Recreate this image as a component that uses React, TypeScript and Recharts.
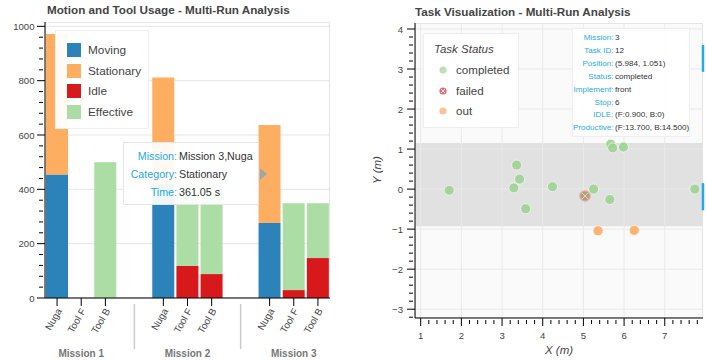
import React from 'react'
import {
  BarChart, Bar, XAxis, YAxis, CartesianGrid,
  ScatterChart, Scatter, ReferenceArea, ReferenceLine
} from 'recharts'

const FONT = '"Liberation Sans", Arial, Helvetica, sans-serif'

// ---- motion / tool usage (seconds) ----
const missions = ['Mission 1', 'Mission 2', 'Mission 3']
const tools = ['Nuga', 'Tool F', 'Tool B']
const nugaMoving = [455, 420, 276]
const nugaStationary = [517, 392, 361.05]
const toolFIdle = [0, 118, 29]
const toolFEffective = [0, 302, 320]
const toolBIdle = [0, 88, 147]
const toolBEffective = [500, 332, 202]
const timeTicks = [0, 200, 400, 600, 800, 1000]

const stackSeries = [
  { key: 'moving', name: 'Moving', color: '#2b83ba' },
  { key: 'stationary', name: 'Stationary', color: '#fdae61' },
  { key: 'idle', name: 'Idle', color: '#d7191c' },
  { key: 'effective', name: 'Effective', color: '#abdda4' }
]

// ---- task positions (m) ----
const completedX = [1.70, 3.29, 3.36, 3.43, 3.58, 4.24, 5.04, 5.25, 5.65, 5.67, 5.72, 5.984, 7.74]
const completedY = [-0.03, 0.03, 0.60, 0.25, -0.49, 0.06, -0.17, 0.00, -0.26, 1.12, 1.03, 1.051, 0.00]
const failedX = [5.04]
const failedY = [-0.17]
const outX = [5.36, 6.25]
const outY = [-1.04, -1.03]
const bandLow = -0.93
const bandHigh = 1.15
const posTicks = [1, 2, 3, 4, 5, 6, 7]
const yPosTicks = [-3, -2, -1, 0, 1, 2, 3, 4]

const statusSeries = [
  { name: 'completed', color: '#a1d99b' },
  { name: 'failed', color: '#e0505a' },
  { name: 'out', color: '#fdae6b' }
]

const hoverTask = [
  ['Mission:', '3'],
  ['Task ID:', '12'],
  ['Position:', '(5.984, 1.051)'],
  ['Status:', 'completed'],
  ['Implement:', 'front'],
  ['Stop:', '6'],
  ['IDLE:', '(F:0.900, B:0)'],
  ['Productive:', '(F:13.700, B:14.500)']
]

// layout of the grouped factor axis
const GROUP = 3 + 1.4
const barRows = missions.flatMap((mission, m) => [
  { mission, tool: tools[0], pos: m * GROUP, moving: nugaMoving[m], stationary: nugaStationary[m], idle: 0, effective: 0 },
  { mission, tool: tools[1], pos: m * GROUP + 1, moving: 0, stationary: 0, idle: toolFIdle[m], effective: toolFEffective[m] },
  { mission, tool: tools[2], pos: m * GROUP + 2, moving: 0, stationary: 0, idle: toolBIdle[m], effective: toolBEffective[m] }
])
const separators = [GROUP - 1.2, 2 * GROUP - 1.2]
const factorTicks = [...barRows.map(r => r.pos), ...separators].sort((a, b) => a - b)
const minorTimeTicks = Array.from({ length: 26 }, (_, i) => i * 40)

const xMinor = Array.from({ length: 35 }, (_, i) => (i + 5) / 5)
const yMinor = Array.from({ length: 37 }, (_, i) => (i - 16) / 5)

const completed = completedX.map((x, i) => ({ x, y: completedY[i] }))
const failed = failedX.map((x, i) => ({ x, y: failedY[i] }))
const out = outX.map((x, i) => ({ x, y: outY[i] }))

const isInt = (v: number) => Math.abs(v - Math.round(v)) < 1e-6
const fmt = (v: number) => (v < 0 ? '\u2212' + Math.abs(Math.round(v)) : String(Math.round(v)))

const FactorTick = (props: any) => {
  const { x, y, payload } = props
  const row = barRows.find(r => Math.abs(r.pos - payload.value) < 0.01)
  if (!row) {
    return <line x1={x} x2={x} y1={y + 4} y2={y + 49} stroke='#cccccc' strokeWidth={1.5} />
  }
  return (
    <g>
      <line x1={x} x2={x} y1={y - 2} y2={y + 6} stroke='#000' />
      <text x={x + 2} y={y + 9} transform={`rotate(-60 ${x + 2} ${y + 9})`} textAnchor='end'
        dominantBaseline='central' fontSize={9.8} fill='#444' fontFamily={FONT}>{row.tool}</text>
      {row.tool === 'Tool F' && (
        <text x={x} y={y + 53} textAnchor='middle' dominantBaseline='central' fontSize={10}
          fontWeight='bold' fill='#777' fontFamily={FONT}>{row.mission}</text>
      )}
    </g>
  )
}

const TimeTick = (props: any) => {
  const { x, y, payload } = props
  const major = payload.value % 200 === 0
  return (
    <g>
      <line x1={x - (major ? 6 : 4)} x2={x + (major ? 2 : 0)} y1={y} y2={y} stroke='#000' />
      {major && (
        <text x={x - 8.5} y={y} textAnchor='end' dominantBaseline='central' fontSize={9.6}
          fill='#444' fontFamily={FONT}>{payload.value}</text>
      )}
    </g>
  )
}

const PosXTick = (props: any) => {
  const { x, y, payload } = props
  const major = isInt(payload.value)
  return (
    <g>
      <line x1={x} x2={x} y1={y - (major ? 2 : 0)} y2={y + (major ? 6 : 4)} stroke='#000' />
      {major && (
        <text x={x} y={y + 15} textAnchor='middle' dominantBaseline='central' fontSize={9.6}
          fill='#444' fontFamily={FONT}>{fmt(payload.value)}</text>
      )}
    </g>
  )
}

const PosYTick = (props: any) => {
  const { x, y, payload } = props
  const major = isInt(payload.value)
  return (
    <g>
      <line x1={x - (major ? 6 : 4)} x2={x + (major ? 2 : 0)} y1={y} y2={y} stroke='#000' />
      {major && (
        <text x={x - 10} y={y} textAnchor='end' dominantBaseline='central' fontSize={9.6}
          fill='#444' fontFamily={FONT}>{fmt(payload.value)}</text>
      )}
    </g>
  )
}

const dot = (fill: string, r = 5) => (p: any) => (
  <circle cx={p.cx} cy={p.cy} r={r} fill={fill} fillOpacity={0.9} stroke='#fff' strokeOpacity={0.6} strokeWidth={1} />
)

const failedShape = (p: any) => {
  const d = 3.4
  return (
    <g>
      <circle cx={p.cx} cy={p.cy} r={5.5} fill='#d62728' fillOpacity={0.3} stroke='#d62728' strokeOpacity={0.15} />
      <line x1={p.cx - d} y1={p.cy - d} x2={p.cx + d} y2={p.cy + d} stroke='#fff' strokeOpacity={0.6} />
      <line x1={p.cx - d} y1={p.cy + d} x2={p.cx + d} y2={p.cy - d} stroke='#fff' strokeOpacity={0.6} />
    </g>
  )
}

const abs = (left: number, top: number, extra: React.CSSProperties = {}): React.CSSProperties => ({
  position: 'absolute', left, top, ...extra
})

const MotionChart = () => {
  const tipRows = [
    ['Mission:', `${missions[2]},${tools[0]}`],
    ['Category:', stackSeries[1].name],
    ['Time:', `${nugaStationary[2].toFixed(2)} s`]
  ]
  return (
    <>
      <div style={abs(45, 22, { width: 285, height: 276, border: '1px solid #e5e5e5', boxSizing: 'border-box' })} />
      <div style={abs(47, 3, { fontSize: 11.7, fontWeight: 'bold', color: '#444', lineHeight: '14px', whiteSpace: 'nowrap' })}>
        Motion and Tool Usage - Multi-Run Analysis
      </div>
      <div style={abs(0, 0)}>
        <BarChart width={340} height={360} data={barRows} margin={{ top: 22, right: 10, bottom: 22, left: 5 }}>
          <CartesianGrid vertical={false} horizontalValues={timeTicks} stroke='#e5e5e5' />
          <XAxis type='number' dataKey='pos' domain={[-0.5, 11.3]} ticks={factorTicks} interval={0}
            tick={<FactorTick />} tickSize={0} tickLine={false} height={40} axisLine={{ stroke: '#000' }} allowDataOverflow />
          <YAxis type='number' domain={[0, 1016]} ticks={minorTimeTicks} interval={0} tick={<TimeTick />}
            tickSize={0} tickLine={false} width={40} axisLine={{ stroke: '#000' }} allowDataOverflow />
          {stackSeries.map(s => (
            <Bar key={s.key} dataKey={s.key} name={s.name} stackId='t' fill={s.color} barSize={22} isAnimationActive={false} />
          ))}
        </BarChart>
      </div>
      {/* legend */}
      <div style={abs(55, 30, { width: 94, height: 99, background: 'rgba(255,255,255,0.95)', border: '1px solid #eeeeee', boxSizing: 'border-box' })}>
        {stackSeries.map((s, i) => (
          <div key={s.key} style={abs(11, 11 + i * 20.5, { display: 'flex', alignItems: 'center', height: 16 })}>
            <span style={{ width: 14, height: 14, background: s.color, display: 'inline-block' }} />
            <span style={{ marginLeft: 7, fontSize: 11.8, color: '#444', whiteSpace: 'nowrap' }}>{s.name}</span>
          </div>
        ))}
      </div>
      {/* hover tooltip */}
      <div style={abs(123, 142, { width: 136, height: 63, background: 'rgba(255,255,255,0.93)', border: '1px solid #e5e5e5', boxSizing: 'border-box' })}>
        {tipRows.map((r, i) => (
          <div key={r[0]} style={abs(0, 5 + i * 17.8, { display: 'flex', fontSize: 10.7, lineHeight: '16px', whiteSpace: 'nowrap' })}>
            <span style={{ width: 53, textAlign: 'right', color: '#26aae1' }}>{r[0]}</span>
            <span style={{ marginLeft: 2, color: '#333' }}>{r[1]}</span>
          </div>
        ))}
      </div>
      <div style={abs(260, 168, { width: 0, height: 0, borderTop: '6px solid transparent', borderBottom: '6px solid transparent', borderLeft: '7px solid #a0a4a8' })} />
    </>
  )
}

const TaskChart = () => (
  <>
    <div style={abs(415, 23, { width: 288, height: 295, background: '#fafafa', border: '1px solid #e5e5e5', boxSizing: 'border-box' })} />
    <div style={abs(415, 5, { fontSize: 11.7, fontWeight: 'bold', color: '#444', lineHeight: '14px', whiteSpace: 'nowrap' })}>
      Task Visualization - Multi-Run Analysis
    </div>
    <div style={abs(355, 0)}>
      <ScatterChart width={351} height={360} margin={{ top: 23, right: 3, bottom: 12, left: 20 }}>
        <XAxis type='number' dataKey='x' domain={[0.86, 7.94]} ticks={xMinor} interval={0} tick={<PosXTick />}
          tickSize={0} tickLine={false} height={30} axisLine={{ stroke: '#000' }} allowDataOverflow />
        <YAxis type='number' dataKey='y' domain={[-3.22, 4.15]} ticks={yMinor} interval={0} tick={<PosYTick />}
          tickSize={0} tickLine={false} width={40} axisLine={{ stroke: '#000' }} allowDataOverflow />
        <ReferenceArea x1={0.86} x2={7.94} y1={bandLow} y2={bandHigh} fill='#e1e1e1' fillOpacity={1} stroke='none' />
        {posTicks.map(v => <ReferenceLine key={'gx' + v} x={v} stroke='#e9e9e9' />)}
        {yPosTicks.map(v => <ReferenceLine key={'gy' + v} y={v} stroke='#e9e9e9' />)}
        <Scatter data={completed} shape={dot('#9fd294')} isAnimationActive={false} />
        <Scatter data={out} shape={dot('#fdab63')} isAnimationActive={false} />
        <Scatter data={failed} shape={failedShape} isAnimationActive={false} />
        <ReferenceLine segment={[{ x: 7.94, y: 3.6 }, { x: 7.94, y: 2.93 }]} stroke='#26aae1' strokeWidth={2.5} ifOverflow='visible' />
        <ReferenceLine segment={[{ x: 7.94, y: 0.15 }, { x: 7.94, y: -0.53 }]} stroke='#26aae1' strokeWidth={2.5} ifOverflow='visible' />
      </ScatterChart>
    </div>
    <div style={abs(559, 350, { transform: 'translate(-50%, -50%)', fontSize: 11.5, fontStyle: 'italic', color: '#444', whiteSpace: 'nowrap' })}>X (m)</div>
    <div style={abs(377, 170, { transform: 'translate(-50%, -50%) rotate(-90deg)', fontSize: 11.5, fontStyle: 'italic', color: '#444', whiteSpace: 'nowrap' })}>Y (m)</div>
    {/* legend */}
    <div style={abs(423, 33, { width: 96, height: 95, background: 'rgba(255,255,255,0.95)', border: '1px solid #eeeeee', boxSizing: 'border-box' })}>
      <div style={abs(10, 7, { fontSize: 11.5, fontStyle: 'italic', color: '#444', lineHeight: '16px', whiteSpace: 'nowrap' })}>Task Status</div>
      {statusSeries.map((s, i) => (
        <div key={s.name} style={abs(0, 28 + i * 20.5, { height: 16, width: 96 })}>
          <svg width={30} height={16} style={{ position: 'absolute', left: 0, top: 0 }}>
            <circle cx={19} cy={8} r={3.6} fill={s.color} fillOpacity={s.name === 'failed' ? 0.85 : 0.75} />
            {s.name === 'failed' && (
              <g stroke='#fff' strokeWidth={0.9}>
                <line x1={17} y1={6} x2={21} y2={10} />
                <line x1={17} y1={10} x2={21} y2={6} />
              </g>
            )}
          </svg>
          <span style={abs(32, 0, { fontSize: 11.6, color: '#444', lineHeight: '16px', whiteSpace: 'nowrap' })}>{s.name}</span>
        </div>
      ))}
    </div>
    {/* hover tooltip */}
    <div style={abs(572, 28, { width: 118, height: 109, background: 'rgba(255,255,255,0.95)', border: '1px solid #eeeeee', boxSizing: 'border-box' })}>
      {hoverTask.map((r, i) => (
        <div key={r[0]} style={abs(0, 3 + i * 12.9, { display: 'flex', fontSize: 8.1, lineHeight: '12px', whiteSpace: 'nowrap' })}>
          <span style={{ width: 40.5, textAlign: 'right', color: '#26aae1' }}>{r[0]}</span>
          <span style={{ marginLeft: 1.5, color: '#333' }}>{r[1]}</span>
        </div>
      ))}
    </div>
  </>
)

export default function App () {
  return (
    <div style={{ position: 'absolute', left: 0, top: 0, width: 706, height: 360, background: '#fff', fontFamily: FONT, overflow: 'hidden' }}>
      <MotionChart />
      <TaskChart />
    </div>
  )
}
